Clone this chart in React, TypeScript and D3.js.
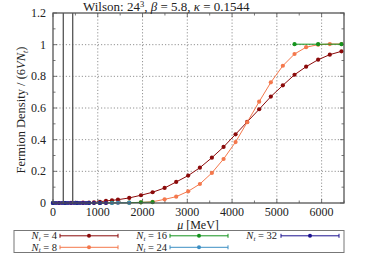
import * as d3 from "d3";
import { useEffect, useRef } from "react";

// chemical potential grids (MeV)
const muFine = [0, 67, 134, 201, 268, 335, 402, 469, 536, 603, 670, 737, 804, 915, 1049, 1183];
const muFull = [0, 134, 268, 402, 536, 670, 804, 915, 1049, 1183, 1317, 1451, 1703, 1964, 2225,
  2493, 2752, 3020, 3281, 3549, 3810, 4078, 4337, 4605, 4866, 5134, 5395, 5654, 5922, 6183, 6444];
const mu16 = [0, 268, 536, 804, 1049, 1317, 1703, 1964, 2225, 3800, 5395, 5922, 6444];
const mu24 = [0, 268, 536, 804, 1049, 1317, 1451, 1703];

// fermion density / (6 V N_t)
const dens4 = [0, 0, 0, 0.001, 0.001, 0.002, 0.003, 0.004, 0.008, 0.013, 0.017, 0.021, 0.032, 0.049, 0.068,
  0.095, 0.133, 0.173, 0.223, 0.286, 0.354, 0.434, 0.512, 0.592, 0.672, 0.743, 0.81, 0.861, 0.905, 0.937, 0.958];
const dens8 = [0, 0, 0, 0, 0, 0, 0, 0, 0, 0, 0.001, 0.001, 0.002, 0.004, 0.008,
  0.023, 0.04, 0.074, 0.12, 0.19, 0.278, 0.385, 0.51, 0.64, 0.762, 0.867, 0.941, 0.984, 1.0, 1.004, 1.004];
const dens16 = [0, 0, 0, 0, 0, 0.001, 0.002, 0.004, 0.005, NaN, 1.003, 1.003, 1.003];
const dens24 = [0, 0, 0, 0, 0, 0, 0.001, 0.001];
const dens32 = [0, 0, 0, 0, 0, 0, 0, 0, 0, 0, 0, 0, 0, 0, 0, 0];

const markers = [230, 440]; // vertical lines

const series = [
  { nt: 4, mu: muFull, val: dens4, color: "#8b0a0a" },
  { nt: 8, mu: muFull, val: dens8, color: "#f4784c" },
  { nt: 16, mu: mu16, val: dens16, color: "#14931e" },
  { nt: 24, mu: mu24, val: dens24, color: "#3d8fc4" },
  { nt: 32, mu: muFine, val: dens32, color: "#1c1290" },
];

const xTicks = [0, 1000, 2000, 3000, 4000, 5000, 6000];
const yTicks = [0, 0.2, 0.4, 0.6, 0.8, 1, 1.2];

// legend grid: column, row
const legendPos = { 4: [0, 0], 8: [0, 1], 16: [1, 0], 24: [1, 1], 32: [2, 0] };

export default function App() {
  const ref = useRef(null);

  useEffect(() => {
    const svg = d3.select(ref.current);
    svg.selectAll("*").remove();
    const font = "Liberation Serif, serif";
    const m = { left: 53, right: 344, top: 13, bottom: 203 };

    const x = d3.scaleLinear().domain([0, 6500]).range([m.left, m.right]);
    const y = d3.scaleLinear().domain([0, 1.2]).range([m.bottom, m.top]);

    // grid
    const grid = svg.append("g").attr("stroke", "#777").attr("stroke-width", 0.8).attr("stroke-dasharray", "1.2,2");
    xTicks.slice(1).forEach((t) => {
      grid.append("line").attr("x1", x(t)).attr("x2", x(t)).attr("y1", m.top).attr("y2", m.bottom);
    });
    yTicks.slice(1, -1).forEach((t) => {
      grid.append("line").attr("x1", m.left).attr("x2", m.right).attr("y1", y(t)).attr("y2", y(t));
    });

    // ticks (inward, all sides)
    const tk = svg.append("g").attr("stroke", "#555").attr("stroke-width", 0.8);
    d3.range(0, 6501, 500).forEach((t) => {
      const l = t % 1000 === 0 ? 4 : 2.5;
      tk.append("line").attr("x1", x(t)).attr("x2", x(t)).attr("y1", m.bottom).attr("y2", m.bottom - l);
      tk.append("line").attr("x1", x(t)).attr("x2", x(t)).attr("y1", m.top).attr("y2", m.top + l);
    });
    d3.range(0, 13).forEach((i) => {
      const t = i / 10;
      const l = i % 2 === 0 ? 4 : 2.5;
      tk.append("line").attr("x1", m.left).attr("x2", m.left + l).attr("y1", y(t)).attr("y2", y(t));
      tk.append("line").attr("x1", m.right).attr("x2", m.right - l).attr("y1", y(t)).attr("y2", y(t));
    });

    // data
    const line = d3
      .line()
      .defined((d) => !isNaN(d[1]))
      .x((d) => x(d[0]))
      .y((d) => y(d[1]));

    series.forEach((s) => {
      const pts = s.mu.map((mu, i) => [mu, s.val[i]]);
      svg.append("path").attr("d", line(pts)).attr("fill", "none").attr("stroke", s.color).attr("stroke-width", 1);
      svg
        .append("g")
        .selectAll("circle")
        .data(pts.filter((d) => !isNaN(d[1])))
        .join("circle")
        .attr("cx", (d) => x(d[0]))
        .attr("cy", (d) => y(d[1]))
        .attr("r", 2.1)
        .attr("fill", s.color);
    });

    markers.forEach((mu) => {
      svg.append("line").attr("x1", x(mu)).attr("x2", x(mu)).attr("y1", m.top).attr("y2", m.bottom)
        .attr("stroke", "#555").attr("stroke-width", 1.3);
    });

    // frame
    svg.append("rect").attr("x", m.left).attr("y", m.top).attr("width", m.right - m.left).attr("height", m.bottom - m.top)
      .attr("fill", "none").attr("stroke", "#555").attr("stroke-width", 1.3);

    const txt = svg.append("g").attr("font-family", font).attr("fill", "#222");

    // tick labels
    xTicks.forEach((t) => {
      txt.append("text").attr("x", x(t)).attr("y", 215.5).attr("text-anchor", "middle")
        .attr("font-size", 12).text(t);
    });
    yTicks.forEach((t) => {
      txt.append("text").attr("x", 46).attr("y", y(t) + 4).attr("text-anchor", "end")
        .attr("font-size", 12).text(t === 0 || t === 1 ? t : t.toFixed(1));
    });

    // title
    const title = txt.append("text").attr("x", 83).attr("y", 11).attr("font-size", 13);
    title.append("tspan").text("Wilson: 24");
    title.append("tspan").attr("font-size", 8.5).attr("dy", -4).text("3");
    title.append("tspan").attr("dy", 4).text(", ");
    title.append("tspan").attr("font-style", "italic").text("β");
    title.append("tspan").text(" = 5.8, ");
    title.append("tspan").attr("font-style", "italic").text("κ");
    title.append("tspan").text(" = 0.1544");

    // axis labels
    const xl = txt.append("text").attr("x", 198).attr("y", 228.5).attr("text-anchor", "middle").attr("font-size", 12);
    xl.append("tspan").attr("font-style", "italic").text("μ");
    xl.append("tspan").text(" [MeV]");

    const yl = txt.append("text").attr("transform", "translate(25,110) rotate(-90)").attr("text-anchor", "middle")
      .attr("font-size", 12.5);
    yl.append("tspan").text("Fermion Density / (6");
    yl.append("tspan").attr("font-style", "italic").text("VN");
    yl.append("tspan").attr("font-style", "italic").attr("font-size", 8).attr("dy", 3).text("t");
    yl.append("tspan").attr("dy", -3).text(")");

    // legend
    svg.append("rect").attr("x", 14).attr("y", 230.5).attr("width", 330).attr("height", 22)
      .attr("fill", "white").attr("stroke", "#777").attr("stroke-width", 1);
    const lg = svg.append("g").attr("font-family", font).attr("fill", "#222");
    const colText = [57, 167, 277];
    const colLine = [60, 170, 281];
    const rowY = [235.8, 247.3];
    series.forEach((s) => {
      const [c, r] = legendPos[s.nt];
      const yy = rowY[r];
      const t = lg.append("text").attr("x", colText[c]).attr("y", yy + 3.3).attr("text-anchor", "end")
        .attr("font-size", 10.5);
      t.append("tspan").attr("font-style", "italic").text("N");
      t.append("tspan").attr("font-style", "italic").attr("font-size", 7).attr("dy", 1.5).text("t");
      t.append("tspan").attr("dy", -1.5).text(` = ${s.nt}`);
      const x0 = colLine[c];
      const x1 = x0 + 58;
      const g = svg.append("g").attr("stroke", s.color).attr("stroke-width", 1);
      g.append("line").attr("x1", x0).attr("x2", x1).attr("y1", yy).attr("y2", yy);
      g.append("line").attr("x1", x0).attr("x2", x0).attr("y1", yy - 2).attr("y2", yy + 2);
      g.append("line").attr("x1", x1).attr("x2", x1).attr("y1", yy - 2).attr("y2", yy + 2);
      svg.append("circle").attr("cx", (x0 + x1) / 2).attr("cy", yy).attr("r", 2).attr("fill", s.color);
    });
  }, []);

  return (
    <svg
      ref={ref}
      width={381}
      height={254}
      style={{ position: "absolute", left: 0, top: 0, background: "white" }}
    />
  );
}
